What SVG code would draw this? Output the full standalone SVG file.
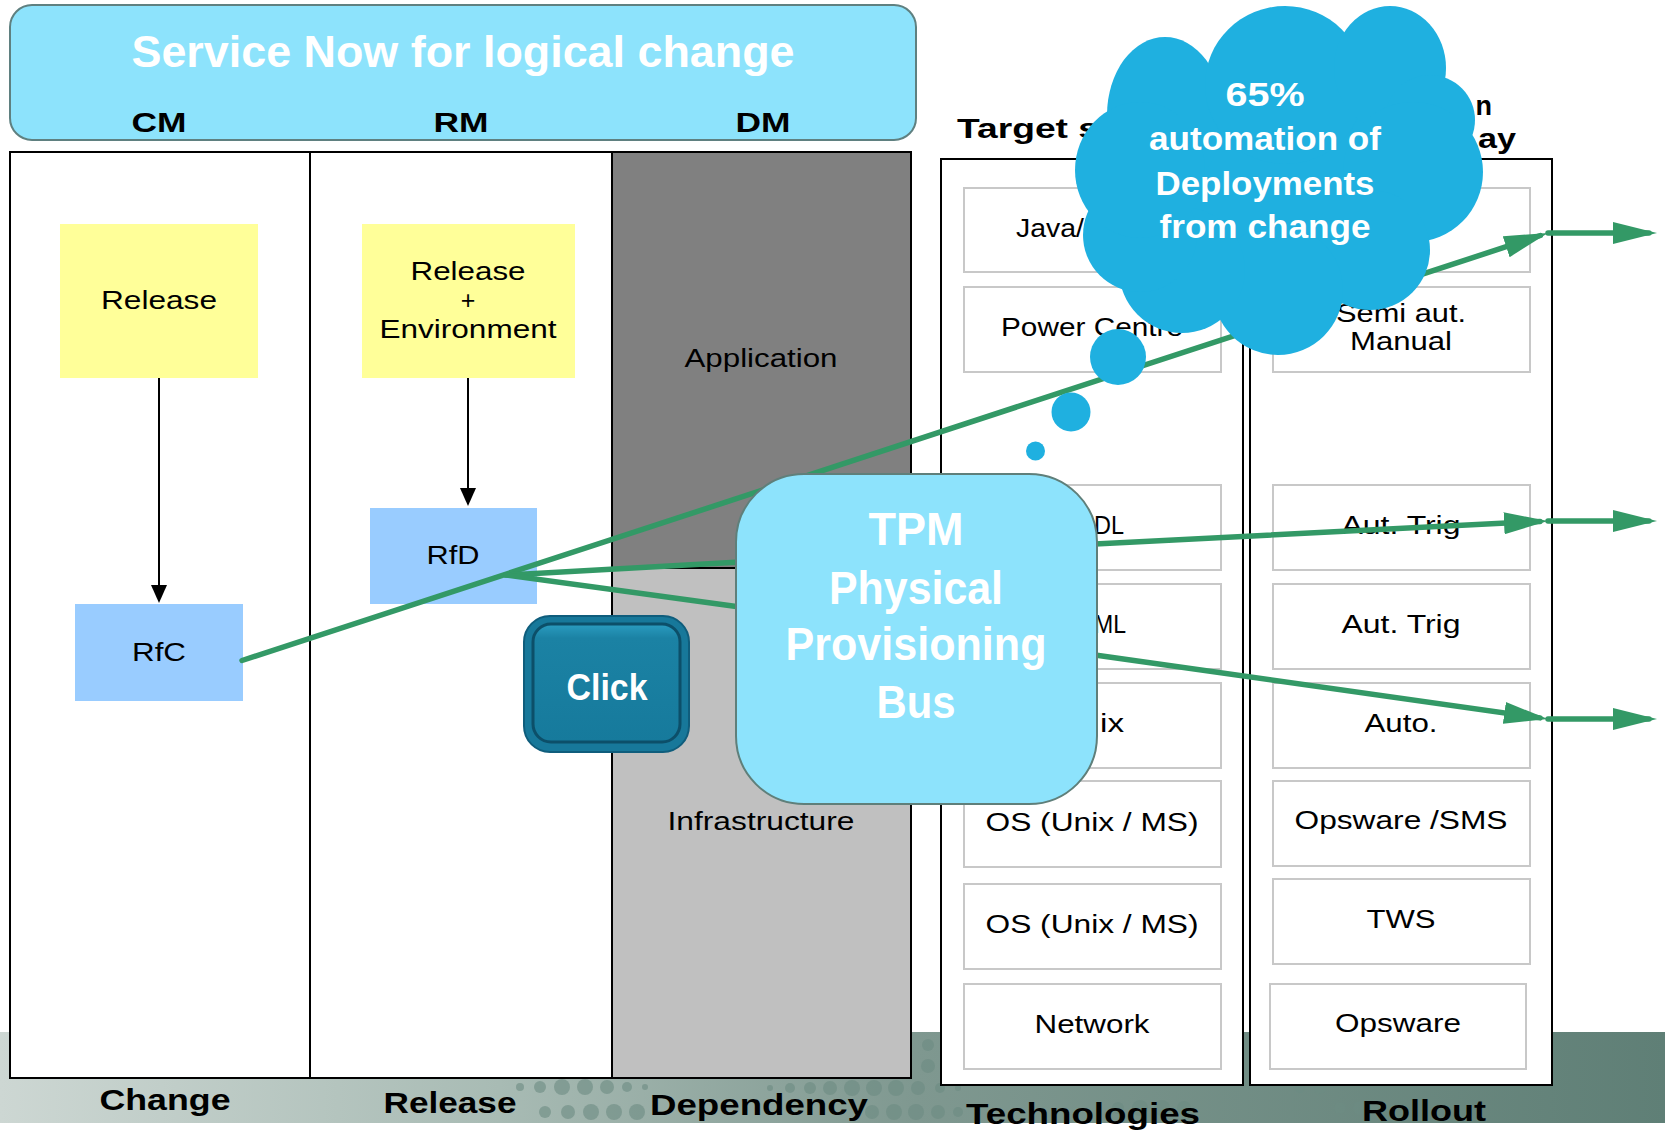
<svg xmlns="http://www.w3.org/2000/svg" width="1665" height="1131" viewBox="0 0 1665 1131">
<style>
.t{font-family:"Liberation Sans",Arial,sans-serif;font-size:25px;fill:#000;text-anchor:middle}
.b{font-family:"Liberation Sans",Arial,sans-serif;font-weight:bold;text-anchor:middle;fill:#000}
.w{font-family:"Liberation Sans",Arial,sans-serif;font-weight:bold;text-anchor:middle;fill:#fff}
.cell{fill:#fff;stroke:#c8c8c8;stroke-width:2}
.frame{fill:#fff;stroke:#000;stroke-width:2}
.g{stroke:#339966;stroke-width:5.5;fill:none;stroke-linecap:round}
.k{stroke:#000;stroke-width:2;fill:none}
.cloud{fill:#1fb0e0}
.dot{fill:#6d8c83}
</style>
<defs>
<linearGradient id="band" x1="0" y1="0" x2="1" y2="0">
<stop offset="0" stop-color="#cdd7d3"/>
<stop offset="0.3" stop-color="#a8bbb4"/>
<stop offset="0.55" stop-color="#7f9890"/>
<stop offset="1" stop-color="#5f7f76"/>
</linearGradient>
<linearGradient id="btn" x1="0" y1="0" x2="0" y2="1">
<stop offset="0" stop-color="#2a9cc0"/>
<stop offset="0.12" stop-color="#1b82a4"/>
<stop offset="1" stop-color="#167a9c"/>
</linearGradient>
<marker id="ga" markerUnits="userSpaceOnUse" viewBox="0 0 44 24" markerWidth="44" markerHeight="24" refX="36" refY="12" orient="auto">
<path d="M0,1 L44,12 L0,23 z" fill="#339966"/>
</marker>
<marker id="ka" markerUnits="userSpaceOnUse" viewBox="0 0 18 16" markerWidth="18" markerHeight="16" refX="16" refY="8" orient="auto">
<path d="M0,0 L18,8 L0,16 z" fill="#000"/>
</marker>
</defs>

<rect x="0" y="0" width="1665" height="1131" fill="#fff"/>
<g id="background">
<rect x="0" y="1032" width="1665" height="91" fill="url(#band)"/>
<g class="dot" opacity="0.6">
<circle cx="520" cy="1087" r="4"/><circle cx="540" cy="1087" r="6"/><circle cx="562" cy="1087" r="8"/><circle cx="585" cy="1087" r="8"/><circle cx="607" cy="1087" r="7"/><circle cx="627" cy="1087" r="5"/><circle cx="645" cy="1087" r="3"/>
<circle cx="545" cy="1112" r="6"/><circle cx="568" cy="1112" r="7"/><circle cx="591" cy="1112" r="8"/><circle cx="614" cy="1112" r="8"/><circle cx="637" cy="1112" r="8"/>
<circle cx="770" cy="1088" r="3"/><circle cx="790" cy="1088" r="5"/><circle cx="810" cy="1088" r="6"/><circle cx="830" cy="1088" r="7"/><circle cx="852" cy="1088" r="8"/><circle cx="874" cy="1088" r="8"/><circle cx="896" cy="1088" r="8"/><circle cx="918" cy="1088" r="7"/><circle cx="940" cy="1088" r="5"/><circle cx="958" cy="1088" r="3"/>
<circle cx="872" cy="1112" r="7"/><circle cx="894" cy="1112" r="8"/><circle cx="916" cy="1112" r="8"/><circle cx="938" cy="1112" r="7"/><circle cx="958" cy="1112" r="5"/>
<circle cx="928" cy="1045" r="6"/><circle cx="928" cy="1066" r="7"/>
<circle cx="1140" cy="1108" r="8"/><circle cx="1162" cy="1108" r="8"/><circle cx="1184" cy="1108" r="7"/><circle cx="1118" cy="1108" r="6"/>
<circle cx="1340" cy="1108" r="6"/><circle cx="1360" cy="1108" r="7"/><circle cx="1300" cy="1088" r="5"/><circle cx="1320" cy="1088" r="6"/>
</g>
</g>

<g id="banner">
<rect x="10" y="5" width="906" height="135" rx="22" fill="#8de3fc" stroke="#5f8080" stroke-width="2"/>
<text class="w" x="463" y="67" font-size="44" textLength="663" lengthAdjust="spacingAndGlyphs">Service Now for logical change</text>
<text class="b" x="159" y="132" font-size="27" textLength="55" lengthAdjust="spacingAndGlyphs">CM</text>
<text class="b" x="461" y="132" font-size="27" textLength="55" lengthAdjust="spacingAndGlyphs">RM</text>
<text class="b" x="763" y="132" font-size="27" textLength="55" lengthAdjust="spacingAndGlyphs">DM</text>
</g>

<g id="lanes">
<rect x="10" y="152" width="901" height="926" fill="#fff" stroke="#000" stroke-width="2"/>
<rect x="612" y="152" width="299" height="416" fill="#808080" stroke="#000" stroke-width="2"/>
<rect x="612" y="568" width="299" height="510" fill="#c0c0c0" stroke="#000" stroke-width="2"/>
<line x1="310" y1="152" x2="310" y2="1078" stroke="#000" stroke-width="2"/>
<text class="t" x="761" y="367" textLength="153" lengthAdjust="spacingAndGlyphs">Application</text>
<text class="t" x="761" y="830" textLength="187" lengthAdjust="spacingAndGlyphs">Infrastructure</text>
</g>

<g id="lane-labels">
<text class="b" x="165" y="1110" font-size="29" textLength="131" lengthAdjust="spacingAndGlyphs">Change</text>
<text class="b" x="450" y="1113" font-size="29" textLength="133" lengthAdjust="spacingAndGlyphs">Release</text>
<text class="b" x="759" y="1115" font-size="29" textLength="218" lengthAdjust="spacingAndGlyphs">Dependency</text>
<text class="b" x="1083" y="1124" font-size="29" textLength="234" lengthAdjust="spacingAndGlyphs">Technologies</text>
<text class="b" x="1424" y="1121" font-size="29" textLength="124" lengthAdjust="spacingAndGlyphs">Rollout</text>
</g>

<g id="release-cm">
<rect x="60" y="224" width="198" height="154" fill="#ffff99"/>
<text class="t" x="159" y="309" textLength="116" lengthAdjust="spacingAndGlyphs">Release</text>
</g>
<g id="release-env">
<rect x="362" y="224" width="213" height="154" fill="#ffff99"/>
<text class="t" x="468" y="280" textLength="115" lengthAdjust="spacingAndGlyphs">Release</text>
<text class="t" x="468" y="309">+</text>
<text class="t" x="468" y="338" textLength="177" lengthAdjust="spacingAndGlyphs">Environment</text>
</g>
<g id="rfc">
<rect x="75" y="604" width="168" height="97" fill="#99ccff"/>
<text class="t" x="159" y="661" textLength="54" lengthAdjust="spacingAndGlyphs">RfC</text>
</g>
<g id="rfd">
<rect x="370" y="508" width="167" height="96" fill="#99ccff"/>
<text class="t" x="453" y="564" textLength="53" lengthAdjust="spacingAndGlyphs">RfD</text>
</g>

<g id="targets">
<rect class="frame" x="941" y="159" width="302" height="926"/>
<text class="b" x="957" y="138" font-size="27" style="text-anchor:start" textLength="142" lengthAdjust="spacingAndGlyphs">Target s</text>
<rect class="cell" x="964" y="188" width="257" height="84"/>
<text class="t" x="1016" y="237" style="text-anchor:start" textLength="68" lengthAdjust="spacingAndGlyphs">Java/</text>
<rect class="cell" x="964" y="287" width="257" height="85"/>
<text class="t" x="1092" y="336" textLength="182" lengthAdjust="spacingAndGlyphs">Power Centre</text>
<rect class="cell" x="964" y="485" width="257" height="85"/>
<text class="t" x="1124" y="534" style="text-anchor:end" textLength="30" lengthAdjust="spacingAndGlyphs">DL</text>
<rect class="cell" x="964" y="584" width="257" height="85"/>
<text class="t" x="1126" y="633" style="text-anchor:end" textLength="32" lengthAdjust="spacingAndGlyphs">ML</text>
<rect class="cell" x="964" y="683" width="257" height="85"/>
<text class="t" x="1124" y="732" style="text-anchor:end" textLength="24" lengthAdjust="spacingAndGlyphs">ix</text>
<rect class="cell" x="964" y="781" width="257" height="86"/>
<text class="t" x="1092" y="831" textLength="213" lengthAdjust="spacingAndGlyphs">OS (Unix / MS)</text>
<rect class="cell" x="964" y="884" width="257" height="85"/>
<text class="t" x="1092" y="933" textLength="213" lengthAdjust="spacingAndGlyphs">OS (Unix / MS)</text>
<rect class="cell" x="964" y="984" width="257" height="85"/>
<text class="t" x="1092" y="1033" textLength="115" lengthAdjust="spacingAndGlyphs">Network</text>
</g>

<g id="rollout">
<rect class="frame" x="1250" y="159" width="302" height="926"/>
<text class="b" x="1492" y="115" font-size="27" style="text-anchor:end">n</text>
<text class="b" x="1516" y="148" font-size="27" style="text-anchor:end" textLength="38" lengthAdjust="spacingAndGlyphs">ay</text>
<rect class="cell" x="1273" y="188" width="257" height="84"/>
<rect class="cell" x="1273" y="287" width="257" height="85"/>
<text class="t" x="1401" y="322" textLength="130" lengthAdjust="spacingAndGlyphs">Semi aut.</text>
<text class="t" x="1401" y="350" textLength="102" lengthAdjust="spacingAndGlyphs">Manual</text>
<rect class="cell" x="1273" y="485" width="257" height="85"/>
<text class="t" x="1401" y="534" textLength="119" lengthAdjust="spacingAndGlyphs">Aut. Trig</text>
<rect class="cell" x="1273" y="584" width="257" height="85"/>
<text class="t" x="1401" y="633" textLength="119" lengthAdjust="spacingAndGlyphs">Aut. Trig</text>
<rect class="cell" x="1273" y="683" width="257" height="85"/>
<text class="t" x="1401" y="732" textLength="73" lengthAdjust="spacingAndGlyphs">Auto.</text>
<rect class="cell" x="1273" y="781" width="257" height="85"/>
<text class="t" x="1401" y="829" textLength="213" lengthAdjust="spacingAndGlyphs">Opsware /SMS</text>
<rect class="cell" x="1273" y="879" width="257" height="85"/>
<text class="t" x="1401" y="928" textLength="69" lengthAdjust="spacingAndGlyphs">TWS</text>
<rect class="cell" x="1270" y="984" width="256" height="85"/>
<text class="t" x="1398" y="1032" textLength="126" lengthAdjust="spacingAndGlyphs">Opsware</text>
</g>

<g id="connectors">
<line class="k" x1="159" y1="378" x2="159" y2="601" marker-end="url(#ka)"/>
<line class="k" x1="468" y1="378" x2="468" y2="504" marker-end="url(#ka)"/>
<line class="g" x1="242" y1="660.5" x2="1540.4" y2="235.5" marker-end="url(#ga)"/>
<line class="g" x1="506" y1="575" x2="740" y2="562"/>
<line class="g" x1="506" y1="575" x2="740" y2="607"/>
<line class="g" x1="1095" y1="544" x2="1540" y2="521.4" marker-end="url(#ga)"/>
<line class="g" x1="1095" y1="655" x2="1540" y2="717.9" marker-end="url(#ga)"/>
<line class="g" x1="1548" y1="233" x2="1649" y2="233" marker-end="url(#ga)"/>
<line class="g" x1="1548" y1="521" x2="1649" y2="521" marker-end="url(#ga)"/>
<line class="g" x1="1548" y1="719" x2="1649" y2="719" marker-end="url(#ga)"/>
</g>

<g id="click">
<rect x="524" y="616" width="165" height="136" rx="26" fill="#17789a" stroke="#0f5d7c" stroke-width="2"/>
<rect x="533" y="624" width="147" height="118" rx="18" fill="url(#btn)" stroke="#0c4f69" stroke-width="3"/>
<text class="w" x="607" y="700" font-size="36" textLength="81" lengthAdjust="spacingAndGlyphs">Click</text>
</g>

<g id="tpm">
<rect x="736" y="474" width="361" height="330" rx="68" fill="#8de3fc" stroke="#5f7f7a" stroke-width="2"/>
<text class="w" x="916" y="545" font-size="46" textLength="95" lengthAdjust="spacingAndGlyphs">TPM</text>
<text class="w" x="916" y="604" font-size="46" textLength="174" lengthAdjust="spacingAndGlyphs">Physical</text>
<text class="w" x="916" y="660" font-size="46" textLength="261" lengthAdjust="spacingAndGlyphs">Provisioning</text>
<text class="w" x="916" y="718" font-size="46" textLength="79" lengthAdjust="spacingAndGlyphs">Bus</text>
</g>

<g id="cloud">
<g class="cloud">
<circle cx="1275" cy="180" r="125"/>
<ellipse cx="1165" cy="115" rx="58" ry="78"/>
<ellipse cx="1285" cy="85" rx="80" ry="79"/>
<ellipse cx="1390" cy="68" rx="56" ry="62"/>
<circle cx="1430" cy="120" r="45"/>
<circle cx="1413" cy="172" r="70"/>
<circle cx="1370" cy="250" r="60"/>
<circle cx="1278" cy="290" r="65"/>
<circle cx="1182" cy="270" r="63"/>
<circle cx="1140" cy="235" r="57"/>
<ellipse cx="1140" cy="170" rx="65" ry="68"/>
<circle cx="1118" cy="357" r="28"/>
<circle cx="1071" cy="412" r="19.5"/>
<circle cx="1035.5" cy="451" r="9.5"/>
</g>
<text class="w" x="1265" y="106" font-size="34" textLength="79" lengthAdjust="spacingAndGlyphs">65%</text>
<text class="w" x="1265" y="150" font-size="34" textLength="232" lengthAdjust="spacingAndGlyphs">automation of</text>
<text class="w" x="1265" y="195" font-size="34" textLength="219" lengthAdjust="spacingAndGlyphs">Deployments</text>
<text class="w" x="1265" y="238" font-size="34" textLength="211" lengthAdjust="spacingAndGlyphs">from change</text>
</g>
</svg>
